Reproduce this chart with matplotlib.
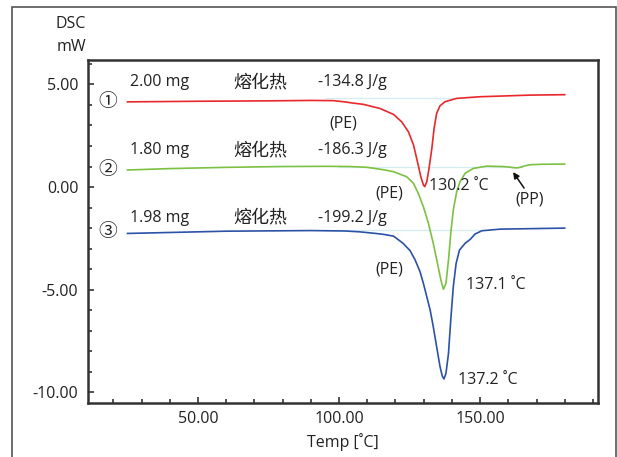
import matplotlib
matplotlib.use("Agg")
import matplotlib.pyplot as plt
from matplotlib.patches import Rectangle
from matplotlib.ticker import MultipleLocator, FormatStrFormatter

plt.rcParams['font.family'] = ['Open Sans', 'Noto Sans CJK SC', 'DejaVu Sans']
plt.rcParams['axes.unicode_minus'] = False

# curve 1 (red)
t_red = [25, 50, 75, 90, 98, 102, 105, 108.6, 114.5, 119.3, 122.2, 124.6, 126.4, 127.8, 129.0, 129.9,
         130.4, 131.1, 131.9, 132.9, 133.7, 134.6, 135.8, 137.6, 141.7, 150, 167.7, 180]
v_red = [4.15, 4.18, 4.20, 4.22, 4.21, 4.15, 4.09, 4.03, 3.83, 3.54, 3.18, 2.69, 2.05, 1.23, 0.50, 0.10,
         0.02, 0.26, 0.91, 1.88, 2.86, 3.59, 3.96, 4.16, 4.32, 4.40, 4.48, 4.50]

# curve 2 (green)
t_green = [25, 40, 60, 80, 95, 104, 110, 115.5, 119.3, 124.0, 126.4, 128.1, 129.9, 131.7, 133.4, 134.9,
           136.1, 137.0, 137.9, 138.8, 139.6, 140.5, 141.7, 142.9, 144.7, 147.6, 152.4, 158,
           160, 161.5, 163, 164.5, 166, 168, 172, 180]
v_green = [0.83, 0.90, 0.96, 1.00, 1.01, 1.00, 0.96, 0.85, 0.75, 0.50, 0.18, -0.31, -0.96, -1.77, -2.74, -3.72,
           -4.53, -4.98, -4.69, -3.56, -2.26, -1.12, -0.23, 0.26, 0.67, 0.91, 1.02, 1.00,
           0.98, 0.95, 0.93, 0.97, 1.04, 1.09, 1.11, 1.12]

# curve 3 (blue)
t_blue = [25, 60, 90, 102, 107.2, 113, 116, 119.3, 122.7, 125.2, 127.0, 128.7, 129.9, 131.1, 132.3, 133.4,
          134.6, 135.8, 136.6, 137.2, 137.9, 138.8, 139.6, 140.5, 141.5, 142.7, 144.7, 146.5,
          148.2, 150.6, 157.1, 180]
v_blue = [-2.26, -2.15, -2.12, -2.14, -2.18, -2.26, -2.31, -2.39, -2.74, -3.10, -3.56, -4.12, -4.69, -5.34,
          -5.99, -6.80, -7.78, -8.75, -9.21, -9.35, -9.08, -8.10, -6.48, -4.86, -3.72, -3.07, -2.74, -2.55,
          -2.29, -2.13, -2.05, -2.00]

# faint integration baselines: (t_start, t_end, level)
baselines = [(95, 140, 4.32), (100, 165, 0.97), (95, 150, -2.10)]

masses = ['2.00 mg', '1.80 mg', '1.98 mg']
heats = ['-134.8 J/g', '-186.3 J/g', '-199.2 J/g']
marks = ['①', '②', '③']
row_y = [5.11, 1.80, -1.50]
mark_y = [4.14, 0.83, -2.19]
pe_y = [3.12, -0.30, -4.00]
pe_t = [101.4, 117.9, 117.9]
peaks = [('130.2 ˚C', 131.9, 0.05), ('137.1 ˚C', 145.0, -4.77), ('137.2 ˚C', 142.2, -9.40)]

fig = plt.figure(figsize=(6.17, 4.57), dpi=100)
ax = fig.add_axes([0.1426, 0.1182, 0.8266, 0.7505])

for t0, t1, lvl in baselines:
    ax.plot([t0, t1], [lvl, lvl], color='#d6ecf3', lw=0.9, zorder=1)

ax.plot(t_red, v_red, color='#e8282c', lw=1.2, zorder=3)
ax.plot(t_green, v_green, color='#7cc142', lw=1.2, zorder=3)
ax.plot(t_blue, v_blue, color='#2b52a6', lw=1.2, zorder=3)

fs = 11.5
tc = '#222222'
for i in range(3):
    ax.text(26, row_y[i], masses[i], fontsize=fs, color=tc, va='center', ha='left')
    ax.text(62.4, row_y[i], '熔化热', fontsize=13, color=tc, va='center', ha='left')
    ax.text(92.6, row_y[i], heats[i], fontsize=fs, color=tc, va='center', ha='left')
    ax.text(18.1, mark_y[i], marks[i], fontsize=13.5, color=tc, va='center', ha='center')
    ax.text(pe_t[i], pe_y[i], '(PE)', fontsize=fs, color=tc, va='center', ha='center')
    lab, tx, ty = peaks[i]
    ax.text(tx, ty, lab, fontsize=fs, color=tc, va='center', ha='left')

ax.text(167.7, -0.63, '(PP)', fontsize=fs, color=tc, va='center', ha='center')
ax.annotate('', xy=(161.7, 0.73), xytext=(165.6, -0.05),
            arrowprops=dict(arrowstyle='-|>', color='#111111', lw=1.1,
                            mutation_scale=9, shrinkA=0, shrinkB=0))

ax.set_xlim(11.0, 191.8)
ax.set_ylim(-10.52, 6.19)
ax.xaxis.set_major_locator(MultipleLocator(50))
ax.xaxis.set_minor_locator(MultipleLocator(10))
ax.yaxis.set_major_locator(MultipleLocator(5))
ax.yaxis.set_minor_locator(MultipleLocator(1))
ax.xaxis.set_major_formatter(FormatStrFormatter('%.2f'))
ax.yaxis.set_major_formatter(FormatStrFormatter('%.2f'))
ax.tick_params(which='both', direction='in', color='#333333', width=1.2,
               labelsize=fs, labelcolor=tc)
ax.tick_params(which='major', length=4, pad=7)
ax.tick_params(which='minor', length=3)
ax.tick_params(axis='x', which='major', pad=6)
for s in ax.spines.values():
    s.set_linewidth(1.8)
    s.set_color('#333333')

ax.set_xlabel('Temp [˚C]', fontsize=fs, color=tc, labelpad=4)

fig.text(86 / 617, 1 - 24 / 457, 'DSC', fontsize=fs, color=tc, ha='right', va='center')
fig.text(86 / 617, 1 - 47 / 457, 'mW', fontsize=fs, color=tc, ha='right', va='center')

fig.add_artist(Rectangle((12 / 617, -0.1), 604 / 617, 1.1 - 7 / 457, transform=fig.transFigure,
                         fill=False, ec='#555555', lw=1.2))

fig.savefig('out.png', dpi=100)
